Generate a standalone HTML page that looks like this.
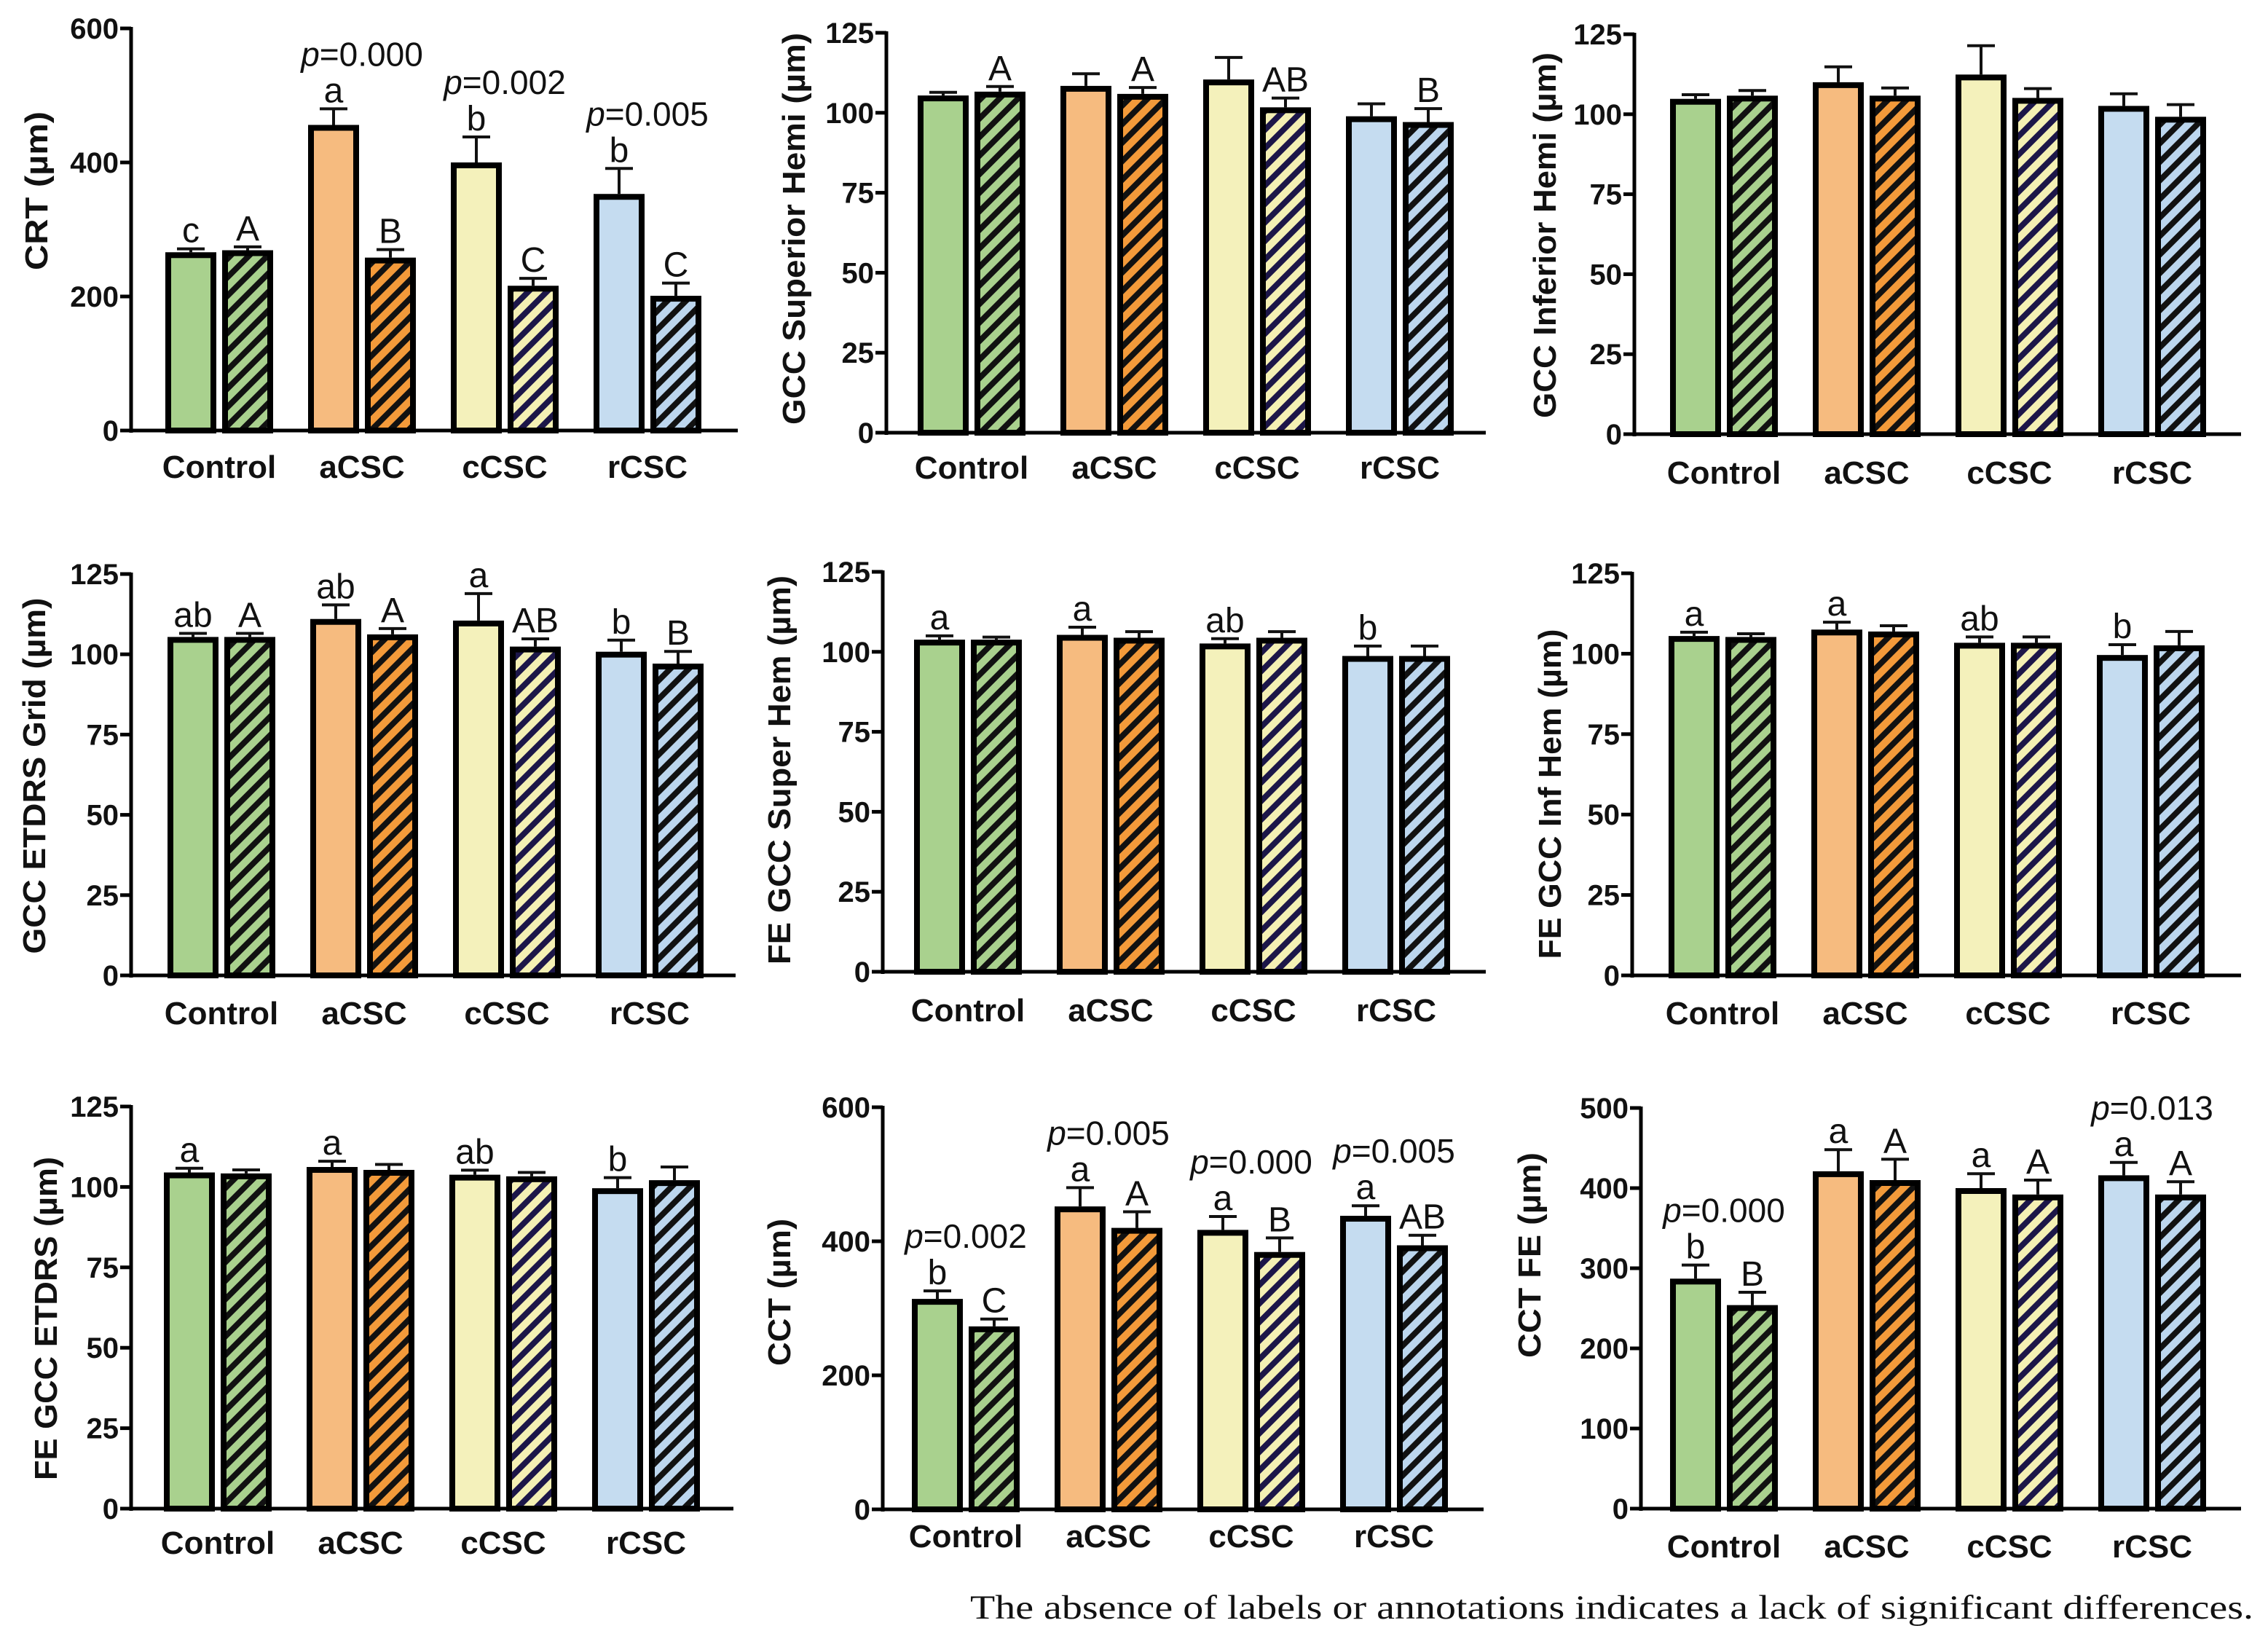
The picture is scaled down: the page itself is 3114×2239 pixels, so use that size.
<!DOCTYPE html>
<html><head><meta charset="utf-8"><style>
html,body{margin:0;padding:0;background:#fff;}
svg{display:block;}
</style></head><body>
<svg id="fig" xmlns="http://www.w3.org/2000/svg" width="3114" height="2239" viewBox="0 0 3114 2239">
<defs>
<pattern id="h-green" patternUnits="userSpaceOnUse" width="18" height="18" patternTransform="rotate(45)"><rect width="18" height="18" fill="#a9d18e"/><rect width="8" height="18" fill="#111"/></pattern>
<pattern id="h-orange" patternUnits="userSpaceOnUse" width="18" height="18" patternTransform="rotate(45)"><rect width="18" height="18" fill="#f39a3a"/><rect width="8" height="18" fill="#111"/></pattern>
<pattern id="h-yellow" patternUnits="userSpaceOnUse" width="18" height="18" patternTransform="rotate(45)"><rect width="18" height="18" fill="#f4f0b4"/><rect width="8" height="18" fill="#1c1648"/></pattern>
<pattern id="h-blue" patternUnits="userSpaceOnUse" width="18" height="18" patternTransform="rotate(45)"><rect width="18" height="18" fill="#bcd6ee"/><rect width="8" height="18" fill="#111"/></pattern>
</defs>
<text x="3094" y="2222" text-anchor="end" font-family="'Liberation Serif', serif" font-size="47" textLength="1762" lengthAdjust="spacingAndGlyphs" fill="#111">The absence of labels or annotations indicates a lack of significant differences.</text>
</svg>
<script>
const categories = ["Control", "aCSC", "cCSC", "rCSC"];
// CRT
const crtSolid = [266, 456, 400, 353];
const crtSolidErr = [5, 24, 38, 38];
const crtHatch = [269, 258, 216, 201];
const crtHatchErr = [5, 12, 11, 19];
const crtSolidLetters = ["c", "a", "b", "b"];
const crtHatchLetters = ["A", "B", "C", "C"];
const crtPValues = ["", "0.000", "0.002", "0.005"];
// GCC Superior Hemi
const gsSolid = [105.4, 108.4, 110.4, 98.9];
const gsSolidErr = [1.0, 3.8, 6.9, 3.9];
const gsHatch = [106.6, 105.9, 101.7, 97.1];
const gsHatchErr = [1.6, 2.0, 2.9, 4.2];
const gsSolidLetters = ["", "", "", ""];
const gsHatchLetters = ["A", "A", "AB", "B"];
const gsPValues = ["", "", "", ""];
// GCC Inferior Hemi
const giSolid = [104.8, 110.0, 112.4, 102.6];
const giSolidErr = [1.3, 4.8, 9.0, 3.8];
const giHatch = [105.8, 105.8, 105.1, 99.2];
const giHatchErr = [1.6, 2.4, 2.9, 3.8];
const giSolidLetters = ["", "", "", ""];
const giHatchLetters = ["", "", "", ""];
const giPValues = ["", "", "", ""];
// GCC ETDRS Grid
const geSolid = [105.4, 111.0, 110.5, 100.8];
const geSolidErr = [1.1, 4.4, 8.4, 3.6];
const geHatch = [105.4, 106.2, 102.4, 97.1];
const geHatchErr = [1.1, 1.8, 2.4, 3.8];
const geSolidLetters = ["ab", "ab", "a", "b"];
const geHatchLetters = ["A", "A", "AB", "B"];
const gePValues = ["", "", "", ""];
// FE GCC Super Hem
const fsSolid = [103.8, 105.3, 102.6, 98.7];
const fsSolidErr = [1.2, 2.4, 1.5, 3.1];
const fsHatch = [103.8, 104.4, 104.4, 98.7];
const fsHatchErr = [0.8, 1.9, 1.9, 3.1];
const fsSolidLetters = ["a", "a", "ab", "b"];
const fsHatchLetters = ["", "", "", ""];
const fsPValues = ["", "", "", ""];
// FE GCC Inf Hem
const fiSolid = [105.5, 107.5, 103.4, 99.6];
const fiSolidErr = [1.2, 2.3, 1.8, 3.2];
const fiHatch = [105.2, 106.9, 103.4, 102.6];
const fiHatchErr = [1.0, 1.8, 1.8, 4.3];
const fiSolidLetters = ["a", "a", "ab", "b"];
const fiHatchLetters = ["", "", "", ""];
const fiPValues = ["", "", "", ""];
// FE GCC ETDRS
const feSolid = [104.5, 106.2, 103.8, 99.6];
const feSolidErr = [1.3, 1.8, 1.4, 3.3];
const feHatch = [104.2, 105.3, 103.3, 102.1];
const feHatchErr = [1.1, 1.7, 1.2, 4.1];
const feSolidLetters = ["a", "a", "ab", "b"];
const feHatchLetters = ["", "", "", ""];
const fePValues = ["", "", "", ""];
// CCT
const cctSolid = [314, 452, 417, 438];
const cctSolidErr = [12, 28, 20, 15];
const cctHatch = [273, 420, 384, 394];
const cctHatchErr = [11, 24, 21, 15];
const cctSolidLetters = ["b", "a", "a", "a"];
const cctHatchLetters = ["C", "A", "B", "AB"];
const cctPValues = ["0.002", "0.005", "0.000", "0.005"];
// CCT FE
const cfSolid = [287, 421, 400, 416];
const cfSolidErr = [17, 27, 18, 16];
const cfHatch = [254, 410, 392, 392];
const cfHatchErr = [16, 26, 18, 16];
const cfSolidLetters = ["b", "a", "a", "a"];
const cfHatchLetters = ["B", "A", "A", "A"];
const cfPValues = ["0.000", "", "", "0.013"];

const ticks125 = [0, 25, 50, 75, 100, 125];
const ticks600 = [0, 200, 400, 600];
const ticks500 = [0, 100, 200, 300, 400, 500];

const solidFills = ["#a9d18e", "#f6bb7f", "#f4f1bb", "#c5dcf0"];
const hatchFills = ["url(#h-green)", "url(#h-orange)", "url(#h-yellow)", "url(#h-blue)"];

const panels = [
 {id:"crt", title:"CRT  (\u00b5m)", max:600, ticks:ticks600, ax:180, top:39, zero:591, bx:227, end:1013, ly:640, tx:50, ty:262, tl:218,
  s:crtSolid, se:crtSolidErr, h:crtHatch, he:crtHatchErr, sl:crtSolidLetters, hl:crtHatchLetters, p:crtPValues},
 {id:"gcc-superior", title:"GCC Superior Hemi (\u00b5m)", max:125, ticks:ticks125, ax:1217, top:45, zero:594, bx:1260, end:2040, ly:641, tx:1090, ty:314, tl:538,
  s:gsSolid, se:gsSolidErr, h:gsHatch, he:gsHatchErr, sl:gsSolidLetters, hl:gsHatchLetters, p:gsPValues},
 {id:"gcc-inferior", title:"GCC Inferior Hemi  (\u00b5m)", max:125, ticks:ticks125, ax:2244, top:47, zero:596, bx:2293, end:3077, ly:648, tx:2121, ty:323, tl:502,
  s:giSolid, se:giSolidErr, h:giHatch, he:giHatchErr, sl:giSolidLetters, hl:giHatchLetters, p:giPValues},
 {id:"gcc-etdrs", title:"GCC ETDRS Grid (\u00b5m)", max:125, ticks:ticks125, ax:180, top:788, zero:1339, bx:230, end:1010, ly:1390, tx:47, ty:1065, tl:489,
  s:geSolid, se:geSolidErr, h:geHatch, he:geHatchErr, sl:geSolidLetters, hl:geHatchLetters, p:gePValues},
 {id:"fe-gcc-super", title:"FE GCC  Super Hem (\u00b5m)", max:125, ticks:ticks125, ax:1212, top:785, zero:1334, bx:1255, end:2040, ly:1386, tx:1070, ty:1057, tl:534,
  s:fsSolid, se:fsSolidErr, h:fsHatch, he:fsHatchErr, sl:fsSolidLetters, hl:fsHatchLetters, p:fsPValues},
 {id:"fe-gcc-inf", title:"FE GCC Inf Hem (\u00b5m)", max:125, ticks:ticks125, ax:2241, top:787, zero:1339, bx:2291, end:3077, ly:1390, tx:2128, ty:1090, tl:453,
  s:fiSolid, se:fiSolidErr, h:fiHatch, he:fiHatchErr, sl:fiSolidLetters, hl:fiHatchLetters, p:fiPValues},
 {id:"fe-gcc-etdrs", title:"FE GCC ETDRS (\u00b5m)", max:125, ticks:ticks125, ax:180, top:1519, zero:2071, bx:225, end:1007, ly:2117, tx:63, ty:1810, tl:444,
  s:feSolid, se:feSolidErr, h:feHatch, he:feHatchErr, sl:feSolidLetters, hl:feHatchLetters, p:fePValues},
 {id:"cct", title:"CCT (\u00b5m)", max:600, ticks:ticks600, ax:1212, top:1520, zero:2072, bx:1252, end:2037, ly:2108, tx:1070, ty:1774, tl:202,
  s:cctSolid, se:cctSolidErr, h:cctHatch, he:cctHatchErr, sl:cctSolidLetters, hl:cctHatchLetters, p:cctPValues},
 {id:"cct-fe", title:"CCT FE  (\u00b5m)", max:500, ticks:ticks500, ax:2253, top:1521, zero:2071, bx:2293, end:3077, ly:2122, tx:2100, ty:1723, tl:282,
  s:cfSolid, se:cfSolidErr, h:cfHatch, he:cfHatchErr, sl:cfSolidLetters, hl:cfHatchLetters, p:cfPValues}
];

const NS = "http://www.w3.org/2000/svg";
const svg = document.getElementById("fig");
const PITCH = 196, BW = 70, OFF = 78, SW = 8;
function mk(tag, attrs, parent) {
  const e = document.createElementNS(NS, tag);
  for (const k in attrs) e.setAttribute(k, attrs[k]);
  parent.appendChild(e);
  return e;
}
function txt(parent, x, y, s, size, weight, anchor, extra) {
  const t = mk("text", Object.assign({x:x, y:y, "font-family":"'Liberation Sans', Arial, sans-serif", "font-size":size, "font-weight":weight, "text-anchor":anchor, fill:"#111"}, extra || {}), parent);
  t.textContent = s;
  return t;
}

panels.forEach(P => {
  const g = mk("g", {}, svg);
  
  
  const y = v => P.zero - v / P.max * (P.zero - P.top);
  const xb = (i, s) => P.bx + i * PITCH + s * OFF;

  categories.forEach((c, i) => {
    [0, 1].forEach(s => {
      const val = s ? P.h[i] : P.s[i];
      const err = s ? P.he[i] : P.se[i];
      const x0 = xb(i, s);
      const ebar = mk("line", {x1:x0 + BW/2, x2:x0 + BW/2, y1:y(val), y2:y(val + err), stroke:"#111", "stroke-width":4}, g);
      
      
      const cap = mk("line", {x1:x0 + BW/2 - 19, x2:x0 + BW/2 + 19, y1:y(val + err), y2:y(val + err), stroke:"#111", "stroke-width":4}, g);
      
      
      const r = mk("rect", {x:x0 + SW/2, y:y(val) + SW/2, width:BW - SW, height:Math.max(0, P.zero - y(val) - SW/2), fill:s ? hatchFills[i] : solidFills[i], stroke:"#000", "stroke-width":SW}, g);
      
      
      const lab = s ? P.hl[i] : P.sl[i];
      if (lab) {
        const lt = txt(g, x0 + BW/2, y(val + err) - 9, lab, 48, "normal", "middle");
        
        
      }
    });
    if (P.p[i]) {
      const topV = Math.max(P.s[i] + P.se[i], P.h[i] + P.he[i]);
      const hasLetter = P.sl[i] || P.hl[i];
      const by = y(topV) - 9 - (hasLetter ? 50 : 0);
      const pt = txt(g, P.bx + i * PITCH + 74, by, "", 46, "normal", "middle");
      const it = mk("tspan", {"font-style":"italic"}, pt); it.textContent = "p";
      const rest = mk("tspan", {}, pt); rest.textContent = "=" + P.p[i];
      
      
    }
    const cl = txt(g, P.bx + i * PITCH + 74, P.ly + 16, c, 44, "bold", "middle");
    
    
  });

  const ya = mk("line", {x1:P.ax, x2:P.ax, y1:P.top - 2, y2:P.zero + 3, stroke:"#000", "stroke-width":5}, g);
  
  
  const xa = mk("line", {x1:P.ax - 2, x2:P.end, y1:P.zero, y2:P.zero, stroke:"#000", "stroke-width":5}, g);
  
  
  P.ticks.forEach(t => {
    const tk = mk("line", {x1:P.ax - 15, x2:P.ax, y1:y(t), y2:y(t), stroke:"#000", "stroke-width":5}, g);
    
    
    const tl = txt(g, P.ax - 17, y(t) + 14, String(t), 40, "bold", "end");
    
    
  });
  const tt = txt(g, 0, 0, P.title, 44, "bold", "middle", {transform:"translate(" + (P.tx + 15) + "," + P.ty + ") rotate(-90)", textLength:P.tl, lengthAdjust:"spacingAndGlyphs"});
  
  
});
</script>
</body></html>
